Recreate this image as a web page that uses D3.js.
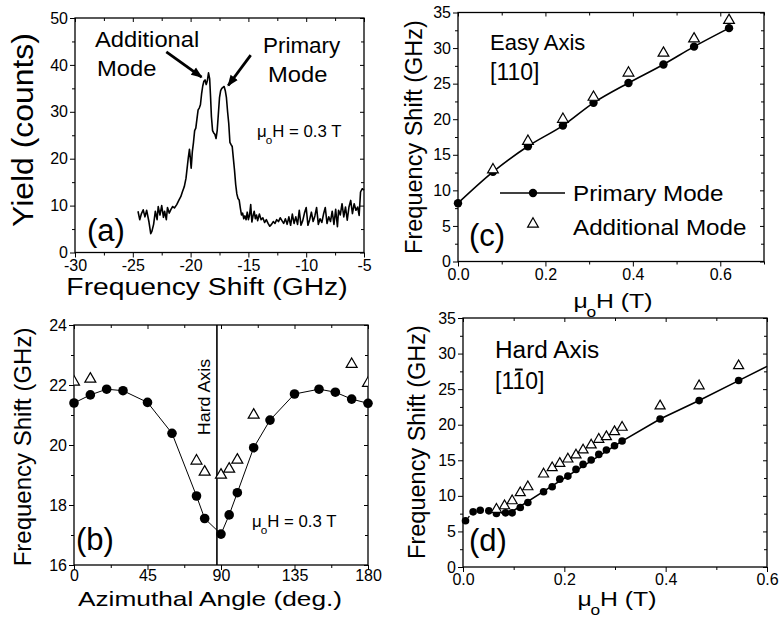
<!DOCTYPE html>
<html>
<head>
<meta charset="utf-8">
<script src="https://cdn.jsdelivr.net/npm/d3@7"></script>
<style>
  body { margin: 0; background: #fff; }
  svg text { font-family: "Liberation Sans", Arial, Helvetica, sans-serif; fill: #000; }
</style>
</head>
<body>
<svg id="fig" width="781" height="624"></svg>
<script>
// (a) Brillouin spectrum at 0.3 T
const spectrumShift = [-24.55, -24.4, -24.25, -24.1, -23.95, -23.8, -23.6, -23.45, -23.35, -23.2,
  -23.05, -22.9, -22.8, -22.65, -22.5, -22.35, -22.25, -22.1, -22.0, -21.85, -21.7, -21.55, -21.4,
  -21.2, -21.0, -20.85, -20.7, -20.55, -20.4, -20.3, -20.2, -20.1, -20.02, -19.95, -19.85, -19.75,
  -19.65, -19.55, -19.45, -19.35, -19.25, -19.15, -19.05, -18.95, -18.85, -18.75, -18.65, -18.55,
  -18.45, -18.35, -18.27, -18.2, -18.1, -18.0, -17.9, -17.8, -17.7, -17.6, -17.5, -17.4, -17.3,
  -17.2, -17.1, -17.0, -16.9, -16.8, -16.7, -16.6, -16.5, -16.4, -16.3, -16.2, -16.1, -16.0, -15.9,
  -15.8, -15.7, -15.6, -15.5, -15.4, -15.3, -15.2, -15.1, -15.0, -14.9, -14.8, -14.7, -14.6, -14.5,
  -14.4, -14.3, -14.2, -14.05, -13.9, -13.75, -13.6, -13.45, -13.3, -13.15, -13.0, -12.85, -12.7,
  -12.55, -12.4, -12.25, -12.1, -11.95, -11.8, -11.65, -11.5, -11.35, -11.2, -11.05, -10.9, -10.75,
  -10.6, -10.45, -10.3, -10.15, -10.0, -9.85, -9.7, -9.55, -9.4, -9.25, -9.1, -8.95, -8.8, -8.65,
  -8.5, -8.35, -8.2, -8.05, -7.9, -7.75, -7.6, -7.45, -7.3, -7.2, -7.05, -6.9, -6.75, -6.6, -6.45,
  -6.3, -6.15, -6.0, -5.85, -5.7, -5.55, -5.42, -5.3, -5.15, -5.0];
const spectrumYield = [8.8, 7.0, 8.3, 9.1, 7.6, 9.0, 6.5, 4.0, 4.5, 6.0,
  8.8, 7.0, 9.8, 8.0, 10.0, 7.5, 8.8, 7.0, 9.6, 8.4, 9.2, 9.8, 9.5,
  10.2, 11.2, 11.9, 13.0, 14.0, 15.8, 18.0, 20.2, 22.0, 20.0, 18.0, 21.5, 23.5,
  26.0, 26.5, 28.5, 30.4, 30.8, 31.5, 33.8, 35.5, 36.5, 36.8, 35.8, 36.6,
  38.3, 37.0, 33.0, 29.0, 26.0, 25.5, 25.2, 24.3, 26.0, 29.5, 33.0, 34.5, 35.0,
  35.2, 35.4, 34.5, 33.0, 30.0, 27.5, 23.5, 23.0, 22.6, 20.0, 17.5, 14.5, 12.5, 11.5,
  11.2, 9.5, 8.0, 8.4, 7.2, 7.8, 7.0, 8.6, 7.0, 8.0, 10.2, 6.5, 7.8, 8.8,
  7.2, 8.0, 6.8, 8.2, 7.0, 7.4, 6.4, 7.0, 6.2, 5.6, 6.0, 6.6, 6.2,
  7.0, 6.6, 7.4, 6.8, 6.2, 7.2, 6.0, 7.6, 5.8, 8.2, 6.2, 7.6, 6.0,
  9.0, 5.8, 6.8, 8.4, 9.6, 5.8, 7.0, 8.6, 6.6, 7.8, 9.6, 6.0, 7.2, 6.4,
  8.2, 9.6, 6.2, 7.6, 6.6, 8.8, 6.0, 9.2, 5.5, 9.0, 8.0, 10.4, 7.6, 9.7, 6.9,
  9.7, 11.1, 8.3, 10.4, 9.0, 9.7, 7.9, 12.9, 13.6, 13.3];

// (b) azimuthal dependence at 0.3 T
const anglePrimary = [0, 10, 20, 30, 45, 60, 75, 80, 90, 95, 100, 110, 120, 135, 150, 160, 170, 180];
const freqPrimaryB = [21.4, 21.67, 21.86, 21.81, 21.42, 20.39, 18.3, 17.55, 17.03, 17.67, 18.41,
  19.91, 20.83, 21.7, 21.86, 21.76, 21.53, 21.39];
const angleAdditional = [0, 10, 75, 80, 90, 95, 100, 110, 170, 180];
const freqAdditionalB = [22.1, 22.2, 19.47, 19.1, 19.0, 19.2, 19.5, 21.0, 22.69, 22.06];
const hardAxisAngle = 87.5;

// (c) easy axis [110]
const fieldEasyPrimary = [0.0, 0.08, 0.16, 0.24, 0.31, 0.39, 0.47, 0.54, 0.62];
const freqPrimaryC = [8.2, 12.6, 16.2, 19.1, 22.3, 25.1, 27.7, 30.2, 32.8];
const fieldEasyAdditional = [0.08, 0.16, 0.24, 0.31, 0.39, 0.47, 0.54, 0.62];
const freqAdditionalC = [12.9, 16.9, 20.0, 23.1, 26.5, 29.3, 31.3, 33.9];

// (d) hard axis [1-10]
const fieldHardPrimary = [0.005, 0.02, 0.034, 0.051, 0.066, 0.084, 0.097, 0.113, 0.128, 0.159,
  0.176, 0.191, 0.207, 0.223, 0.237, 0.253, 0.268, 0.283, 0.299, 0.314, 0.389, 0.466, 0.544];
const freqPrimaryD = [6.5, 7.75, 7.98, 7.89, 7.52, 7.61, 7.61, 8.36, 9.06, 10.57,
  11.27, 12.35, 12.78, 13.72, 14.42, 15.03, 15.83, 16.44, 17.05, 17.71, 20.81, 23.39, 26.21];
const fieldHardAdditional = [0.066, 0.082, 0.097, 0.113, 0.128, 0.159, 0.176, 0.191, 0.207, 0.223,
  0.237, 0.253, 0.268, 0.283, 0.299, 0.314, 0.389, 0.466, 0.544];
const freqAdditionalD = [8.1, 8.6, 9.3, 10.43, 11.27, 13.06, 13.95, 14.56, 15.17, 15.74,
  16.44, 17.14, 17.94, 18.32, 19.02, 19.63, 22.64, 25.46, 28.28];
const fitFieldD = [0.097, 0.2, 0.314, 0.389, 0.466, 0.544, 0.6];
const fitFreqD = [7.8, 12.5, 17.7, 20.8, 23.4, 26.2, 28.2];

const svg = d3.select("#fig");
svg.append("defs").append("marker")
  .attr("id", "head")
  .attr("viewBox", "0 0 10 10")
  .attr("refX", 9).attr("refY", 5)
  .attr("markerWidth", 4.2).attr("markerHeight", 4)
  .attr("markerUnits", "strokeWidth")
  .attr("orient", "auto")
  .append("path").attr("d", "M0,1L10,5L0,9z").attr("fill", "#000");

function ticks(g, axis, pos, vals, size, labels, fmt, pad) {
  const a = axis.tickValues(vals).tickSize(size).tickPadding(labels ? pad : 0)
    .tickFormat(labels ? fmt : "");
  g.append("g").attr("transform", pos).call(a)
    .call(s => s.select(".domain").remove())
    .call(s => s.selectAll("line").attr("stroke", "#000").attr("stroke-width", 1))
    .call(s => s.selectAll("text").attr("font-size", 16));
}

function panel(c) {
  const x = d3.scaleLinear().domain(c.xDomain).range([c.left, c.right]);
  const y = d3.scaleLinear().domain(c.yDomain).range([c.bottom, c.top]);
  const g = svg.append("g");
  const fx = c.xFormat || (d => String(d));
  const fy = d => String(d);
  const xPad = c.xPad === undefined ? 2 : c.xPad;
  ticks(g, d3.axisBottom(x), `translate(0,${c.bottom})`, c.xMajor, 5, true, fx, xPad);
  ticks(g, d3.axisBottom(x), `translate(0,${c.bottom})`, c.xMinor, 3, false);
  ticks(g, d3.axisLeft(y), `translate(${c.left},0)`, c.yMajor, 5, true, fy, 2);
  ticks(g, d3.axisLeft(y), `translate(${c.left},0)`, c.yMinor, 3, false);
  ticks(g, d3.axisTop(x), `translate(0,${c.top})`, c.xMajor, -4, false);
  ticks(g, d3.axisTop(x), `translate(0,${c.top})`, c.xMinor, -3, false);
  ticks(g, d3.axisRight(y), `translate(${c.right},0)`, c.yMajor, -4, false);
  ticks(g, d3.axisRight(y), `translate(${c.right},0)`, c.yMinor, -3, false);
  g.append("rect")
    .attr("x", c.left).attr("y", c.top)
    .attr("width", c.right - c.left).attr("height", c.bottom - c.top)
    .attr("fill", "none").attr("stroke", "#000").attr("stroke-width", 1.3);
  return { g, x, y };
}

function range(a, b, s) { return d3.range(a, b + s / 2, s); }

// text, optionally widened horizontally like the original print
function label(g, txt, x, y, size, sx, anchor) {
  return g.append("text")
    .attr("transform", `translate(${x},${y}) scale(${sx || 1},1)`)
    .attr("text-anchor", anchor || "start")
    .attr("font-size", size).text(txt);
}

function vTitle(g, txt, x, y, size, sl) {
  g.append("text").attr("transform", `translate(${x},${y}) rotate(-90) scale(${sl || 1},1)`)
    .attr("text-anchor", "middle").attr("font-size", size).text(txt);
}

// text of the form  mu_o H ...
function muH(g, x, y, size, rest, sx, anchor) {
  const t = label(g, "", x, y, size, sx, anchor);
  t.append("tspan").text("μ");
  t.append("tspan").attr("font-size", size * 0.7).attr("dx", -size * 0.06).attr("dy", size * 0.45).text("o");
  t.append("tspan").attr("dy", -size * 0.45).text(rest);
  return t;
}

function circles(g, xs, ys, x, y, r) {
  g.append("g").selectAll("circle").data(xs).join("circle")
    .attr("cx", d => x(d)).attr("cy", (d, i) => y(ys[i])).attr("r", r).attr("fill", "#000");
}

function triangles(g, xs, ys, x, y, size) {
  const sym = d3.symbol(d3.symbolTriangle, size);
  const tg = g.append("g");
  tg.selectAll("path").data(xs).join("path")
    .attr("d", sym)
    .attr("transform", (d, i) => `translate(${x(d)},${y(ys[i])})`)
    .attr("fill", "#fff").attr("stroke", "#000").attr("stroke-width", 1.2);
  return tg;
}

// ---------- (a)
const pa = panel({
  left: 75, right: 364, top: 18, bottom: 252.5,
  xDomain: [-30, -5], yDomain: [0, 50],
  xMajor: range(-30, -5, 5), xMinor: range(-27.5, -7.5, 5),
  yMajor: range(0, 50, 10), yMinor: range(5, 45, 10)
});
pa.g.append("path")
  .datum(spectrumShift)
  .attr("d", d3.line().x(d => pa.x(d)).y((d, i) => pa.y(spectrumYield[i])))
  .attr("fill", "none").attr("stroke", "#000").attr("stroke-width", 1.6)
  .attr("stroke-linejoin", "round");
const arrows = [[-22.1, 42.8, -19.05, 37.4], [-14.8, 42.1, -16.75, 35.6]];
pa.g.selectAll(".arrow").data(arrows).join("line")
  .attr("x1", d => pa.x(d[0])).attr("y1", d => pa.y(d[1]))
  .attr("x2", d => pa.x(d[2])).attr("y2", d => pa.y(d[3]))
  .attr("stroke", "#000").attr("stroke-width", 2.8).attr("marker-end", "url(#head)");
label(pa.g, "Additional", 95, 47, 22, 1.08);
label(pa.g, "Mode", 97, 76, 22, 1.08);
label(pa.g, "Primary", 263, 53, 22, 1.02);
label(pa.g, "Mode", 268, 82, 22, 1.08);
muH(pa.g, 257, 137, 16, "H = 0.3 T", 1.05);
label(pa.g, "(a)", 87, 241, 31);
label(pa.g, "Frequency Shift (GHz)", 207, 295, 23, 1.23, "middle");
vTitle(pa.g, "Yield (counts)", 33, 130, 29, 1.1);

// ---------- (b)
const pb = panel({
  left: 74, right: 368, top: 325, bottom: 565,
  xDomain: [0, 180], yDomain: [16, 24],
  xMajor: range(0, 180, 45), xMinor: range(22.5, 157.5, 45),
  yMajor: range(16, 24, 2), yMinor: range(17, 23, 2),
  xPad: 0
});
pb.g.append("clipPath").attr("id", "clipB").append("rect")
  .attr("x", 74).attr("y", 325).attr("width", 294).attr("height", 240);
pb.g.append("line")
  .attr("x1", pb.x(hardAxisAngle)).attr("x2", pb.x(hardAxisAngle))
  .attr("y1", pb.y(24)).attr("y2", pb.y(16))
  .attr("stroke", "#000").attr("stroke-width", 1.6);
pb.g.append("path")
  .datum(anglePrimary)
  .attr("d", d3.line().x(d => pb.x(d)).y((d, i) => pb.y(freqPrimaryB[i])))
  .attr("fill", "none").attr("stroke", "#000").attr("stroke-width", 1);
circles(pb.g, anglePrimary, freqPrimaryB, pb.x, pb.y, 4.8);
triangles(pb.g, angleAdditional, freqAdditionalB, pb.x, pb.y, 52).attr("clip-path", "url(#clipB)");
vTitle(pb.g, "Hard Axis", 210, 397, 17, 1.05);
muH(pb.g, 252, 527, 16, "H = 0.3 T", 1.05);
label(pb.g, "(b)", 76, 550, 31);
label(pb.g, "Azimuthal Angle (deg.)", 210, 606, 21, 1.25, "middle");
vTitle(pb.g, "Frequency Shift (GHz)", 31, 447, 24);

// ---------- (c)
const pc = panel({
  left: 458, right: 764, top: 12.5, bottom: 261.5,
  xDomain: [0, 0.7], yDomain: [0, 35],
  xMajor: range(0, 0.6, 0.2), xMinor: range(0.1, 0.7, 0.2),
  yMajor: range(0, 35, 5), yMinor: range(2.5, 32.5, 5),
  xFormat: d3.format(".1f")
});
pc.g.append("path")
  .datum(fieldEasyPrimary)
  .attr("d", d3.line().curve(d3.curveCatmullRom).x(d => pc.x(d)).y((d, i) => pc.y(freqPrimaryC[i])))
  .attr("fill", "none").attr("stroke", "#000").attr("stroke-width", 1.6);
circles(pc.g, fieldEasyPrimary, freqPrimaryC, pc.x, pc.y, 4.2);
triangles(pc.g, fieldEasyAdditional, freqAdditionalC, pc.x, pc.y, 50);
label(pc.g, "Easy Axis", 490, 50, 22);
label(pc.g, "[110]", 490, 80, 23);
// legend
pc.g.append("line").attr("x1", 500).attr("x2", 565).attr("y1", 193).attr("y2", 193)
  .attr("stroke", "#000").attr("stroke-width", 1.6);
pc.g.append("circle").attr("cx", 533).attr("cy", 193).attr("r", 4.2).attr("fill", "#000");
pc.g.append("path").attr("d", d3.symbol(d3.symbolTriangle, 50))
  .attr("transform", "translate(533,224)")
  .attr("fill", "#fff").attr("stroke", "#000").attr("stroke-width", 1.2);
label(pc.g, "Primary Mode", 573, 201, 22, 1.1);
label(pc.g, "Additional Mode", 573, 235, 22, 1.1);
label(pc.g, "(c)", 469, 246, 31);
muH(pc.g, 613, 308, 21, "H (T)", 1.18, "middle");
vTitle(pc.g, "Frequency Shift (GHz)", 422, 137, 23.5);

// ---------- (d)
const pd = panel({
  left: 463, right: 767, top: 318, bottom: 567,
  xDomain: [0, 0.6], yDomain: [0, 35],
  xMajor: range(0, 0.6, 0.2), xMinor: range(0.1, 0.5, 0.2),
  yMajor: range(0, 35, 5), yMinor: range(2.5, 32.5, 5),
  xFormat: d3.format(".1f")
});
pd.g.append("path")
  .datum(fieldHardPrimary.slice(0, 7))
  .attr("d", d3.line().x(d => pd.x(d)).y((d, i) => pd.y(freqPrimaryD[i])))
  .attr("fill", "none").attr("stroke", "#000").attr("stroke-width", 1.3)
  .attr("stroke-dasharray", "2,2");
pd.g.append("path")
  .datum(fitFieldD)
  .attr("d", d3.line().x(d => pd.x(d)).y((d, i) => pd.y(fitFreqD[i])))
  .attr("fill", "none").attr("stroke", "#000").attr("stroke-width", 1.6);
circles(pd.g, fieldHardPrimary, freqPrimaryD, pd.x, pd.y, 3.8);
triangles(pd.g, fieldHardAdditional, freqAdditionalD, pd.x, pd.y, 44);
label(pd.g, "Hard Axis", 495, 358, 23, 1.06);
const miller = pd.g.append("text").attr("x", 495).attr("y", 389).attr("font-size", 23);
miller.append("tspan").text("[1");
miller.append("tspan").text("1");
miller.append("tspan").text("0]");
{
  const n = miller.node();
  const s = n.getStartPositionOfChar(2).x, e = n.getEndPositionOfChar(2).x;
  const w = e - s;
  pd.g.append("line")
    .attr("x1", s + w * 0.2).attr("x2", e - w * 0.2)
    .attr("y1", 389 - 23 * 0.716 - 3).attr("y2", 389 - 23 * 0.716 - 3)
    .attr("stroke", "#000").attr("stroke-width", 2);
}
label(pd.g, "(d)", 469, 551, 31);
muH(pd.g, 617, 606, 21, "H (T)", 1.18, "middle");
vTitle(pd.g, "Frequency Shift (GHz)", 425, 442, 23.5);
</script>
</body>
</html>
